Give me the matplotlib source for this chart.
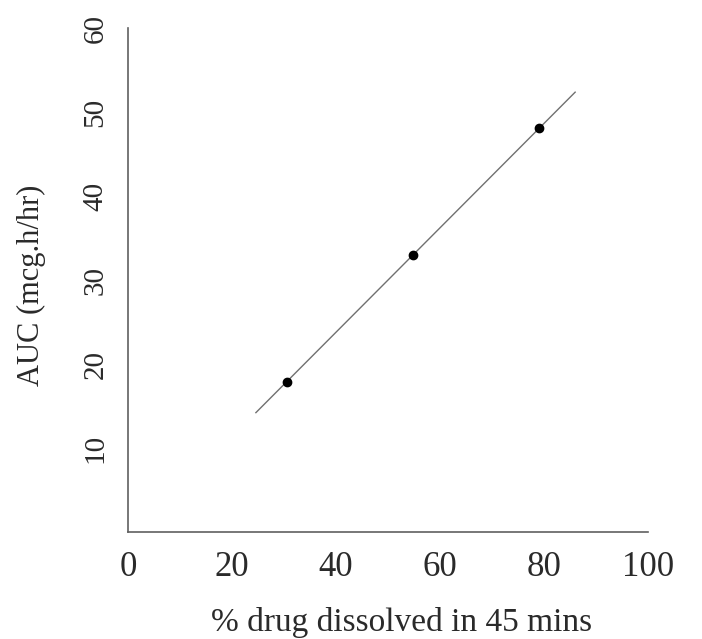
import numpy as np
import matplotlib
matplotlib.use("Agg")
import matplotlib.pyplot as plt

# Data
dissolved_pct = [30.5, 54.9, 79.1]
auc_values = [17.9, 33.0, 48.1]
fit_x_range = [24.6, 86.0]
x_ticks = [0, 20, 40, 60, 80, 100]
y_ticks = [10, 20, 30, 40, 50, 60]

plt.rcParams['font.family'] = ['Liberation Serif', 'DejaVu Serif']

fig = plt.figure(figsize=(7.02, 6.39), dpi=100)
ax = fig.add_axes([0.1823, 0.1674, 0.7407, 0.7887])

slope, intercept = np.polyfit(dissolved_pct, auc_values, 1)
fx = np.array(fit_x_range)
ax.plot(fx, slope * fx + intercept, color='#707070', lw=1.0, zorder=2)
ax.plot(dissolved_pct, auc_values, 'o', color='black', markersize=6, zorder=3)

ax.set_xlim(0, 100)
ax.set_ylim(0, 60)

for s in ['top', 'right']:
    ax.spines[s].set_visible(False)
for s in ['left', 'bottom']:
    ax.spines[s].set_color('#606060')
    ax.spines[s].set_linewidth(1.2)

ax.set_xticks(x_ticks)
ax.set_xticklabels([str(v) for v in x_ticks], fontsize=25, color='#2a2a2a')
ax.set_yticks(y_ticks)
ax.set_yticklabels([str(v) for v in y_ticks], fontsize=21, color='#2a2a2a',
                   rotation=90, va='center')
ax.tick_params(axis='x', length=0, pad=14)
ax.tick_params(axis='y', length=0, pad=14)

ax.set_xlabel('% drug dissolved in 45 mins', fontsize=24, color='#2a2a2a')
ax.xaxis.set_label_coords(0.527, -0.179)
ax.xaxis.label.set_va('center')
ax.set_ylabel('AUC (mcg.h/hr)', fontsize=22, color='#2a2a2a')
ax.yaxis.set_label_coords(-0.186, 0.49)
ax.yaxis.label.set_va('center')

fig.savefig('out.png', dpi=100)
